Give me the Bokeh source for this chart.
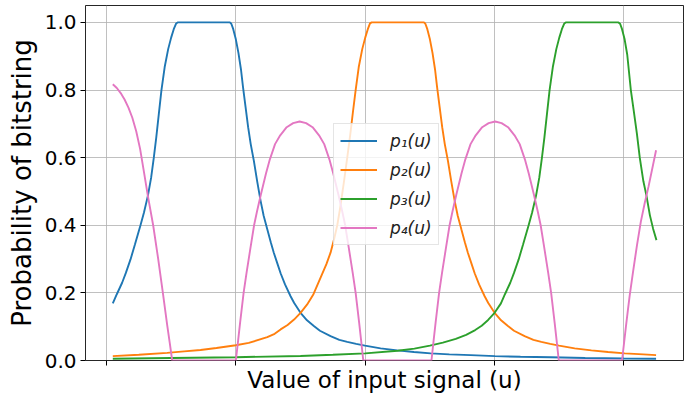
from bokeh.plotting import figure
from bokeh.models import Range1d, FixedTicker, PrintfTickFormatter, Legend, LegendItem
from bokeh.embed import file_html
from bokeh.resources import INLINE

# ---- data (x in grid units, y = probability) ----
u1 = [0.049, 0.080, 0.121, 0.150, 0.186, 0.220, 0.263, 0.290, 0.320, 0.345, 0.366, 0.385,
      0.405, 0.425, 0.450, 0.477, 0.500, 0.520, 0.539, 0.550, 0.954, 0.965, 0.980, 1.000,
      1.020, 1.040, 1.055, 1.075, 1.095, 1.115, 1.139, 1.165, 1.191, 1.215, 1.243, 1.270,
      1.294, 1.320, 1.346, 1.380, 1.423, 1.451, 1.500, 1.550, 1.603, 1.650, 1.732, 1.800,
      1.861, 1.930, 1.998, 2.119, 2.248, 2.377, 2.506, 2.650, 2.815, 3.003, 3.200, 3.434,
      3.700, 4.000, 4.248]
p1 = [0.169, 0.196, 0.230, 0.259, 0.299, 0.343, 0.400, 0.438, 0.487, 0.540, 0.600, 0.660,
      0.730, 0.800, 0.868, 0.921, 0.955, 0.980, 0.997, 1.000, 1.000, 0.996, 0.980, 0.950,
      0.910, 0.860, 0.810, 0.750, 0.690, 0.640, 0.591, 0.530, 0.473, 0.428, 0.388, 0.350,
      0.318, 0.288, 0.258, 0.225, 0.190, 0.170, 0.141, 0.119, 0.102, 0.088, 0.072, 0.061,
      0.055, 0.049, 0.044, 0.036, 0.030, 0.025, 0.021, 0.018, 0.016, 0.013, 0.011, 0.0098,
      0.0075, 0.006, 0.005]

u2 = [0.049, 0.250, 0.469, 0.600, 0.727, 0.850, 1.000, 1.100, 1.243, 1.300, 1.346, 1.400,
      1.450, 1.500, 1.550, 1.600, 1.655, 1.700, 1.732, 1.760, 1.784, 1.810, 1.836, 1.861,
      1.885, 1.905, 1.926, 1.950, 1.977, 2.000, 2.020, 2.037, 2.050, 2.454, 2.465, 2.480,
      2.500, 2.520, 2.540, 2.555, 2.575, 2.595, 2.615, 2.639, 2.665, 2.691, 2.715, 2.743,
      2.770, 2.794, 2.820, 2.846, 2.880, 2.923, 2.951, 3.000, 3.050, 3.103, 3.150, 3.232,
      3.300, 3.361, 3.430, 3.498, 3.619, 3.748, 3.877, 4.006, 4.150, 4.248]
p2 = [0.013, 0.017, 0.0226, 0.027, 0.031, 0.037, 0.045, 0.052, 0.069, 0.079, 0.092, 0.105,
      0.121, 0.141, 0.165, 0.196, 0.245, 0.285, 0.319, 0.360, 0.400, 0.460, 0.530, 0.600,
      0.670, 0.735, 0.800, 0.868, 0.921, 0.955, 0.980, 0.997, 1.000, 1.000, 0.996, 0.980,
      0.950, 0.910, 0.860, 0.810, 0.750, 0.690, 0.640, 0.591, 0.530, 0.473, 0.428, 0.388,
      0.350, 0.318, 0.288, 0.258, 0.225, 0.190, 0.170, 0.141, 0.119, 0.102, 0.088, 0.072,
      0.061, 0.055, 0.049, 0.044, 0.036, 0.030, 0.025, 0.021, 0.018, 0.016]

u3 = [0.049, 0.500, 1.000, 1.500, 1.750, 2.000, 2.250, 2.380, 2.500, 2.600, 2.700, 2.780,
      2.850, 2.900, 2.950, 3.000, 3.049, 3.080, 3.121, 3.150, 3.186, 3.220, 3.263, 3.290,
      3.320, 3.345, 3.366, 3.385, 3.405, 3.425, 3.450, 3.477, 3.500, 3.520, 3.539, 3.550,
      3.957, 3.970, 3.985, 4.005, 4.025, 4.053, 4.075, 4.100, 4.122, 4.150, 4.174, 4.200,
      4.225, 4.251]
p3 = [0.005, 0.0072, 0.0098, 0.0135, 0.017, 0.021, 0.029, 0.035, 0.044, 0.053, 0.064, 0.076,
      0.090, 0.103, 0.120, 0.141, 0.169, 0.196, 0.230, 0.259, 0.299, 0.343, 0.400, 0.438,
      0.487, 0.540, 0.600, 0.660, 0.730, 0.800, 0.868, 0.921, 0.955, 0.980, 0.997, 1.000,
      1.000, 0.996, 0.980, 0.950, 0.905, 0.800, 0.740, 0.670, 0.600, 0.530, 0.487, 0.430,
      0.390, 0.356]

u4 = [0.049, 0.080, 0.110, 0.140, 0.170, 0.200, 0.230, 0.260, 0.290, 0.320, 0.361, 0.400,
      0.436, 0.470, 0.490, 0.508, 1.000,
      1.018, 1.033, 1.060, 1.083, 1.113, 1.141, 1.163, 1.193, 1.233, 1.263, 1.303, 1.343,
      1.393, 1.443, 1.493, 1.543, 1.593, 1.643, 1.683, 1.723, 1.753, 1.793, 1.823, 1.845,
      1.873, 1.903, 1.926, 1.953, 1.968, 1.985, 2.512,
      2.529, 2.544, 2.571, 2.594, 2.624, 2.652, 2.674, 2.704, 2.744, 2.774, 2.814, 2.854,
      2.904, 2.954, 3.004, 3.054, 3.104, 3.154, 3.194, 3.234, 3.264, 3.304, 3.334, 3.356,
      3.384, 3.414, 3.437, 3.464, 3.479, 3.496, 3.985,
      4.000, 4.015, 4.030, 4.045, 4.070, 4.100, 4.130, 4.160, 4.190, 4.220, 4.248]
p4 = [0.817, 0.806, 0.791, 0.772, 0.748, 0.718, 0.678, 0.626, 0.557, 0.487, 0.400, 0.300,
      0.200, 0.103, 0.050, 0.000, 0.000,
      0.060, 0.112, 0.200, 0.260, 0.333, 0.400, 0.440, 0.490, 0.553, 0.595, 0.640, 0.666,
      0.690, 0.702, 0.707, 0.702, 0.690, 0.666, 0.640, 0.595, 0.553, 0.490, 0.440, 0.400,
      0.333, 0.260, 0.200, 0.112, 0.060, 0.000, 0.000,
      0.060, 0.112, 0.200, 0.260, 0.333, 0.400, 0.440, 0.490, 0.553, 0.595, 0.640, 0.666,
      0.690, 0.702, 0.707, 0.702, 0.690, 0.666, 0.640, 0.595, 0.553, 0.490, 0.440, 0.400,
      0.333, 0.260, 0.200, 0.112, 0.060, 0.000, 0.000,
      0.050, 0.100, 0.148, 0.195, 0.262, 0.340, 0.410, 0.465, 0.515, 0.570, 0.622]

labels = ["p\u2081(u)", "p\u2082(u)", "p\u2083(u)", "p\u2084(u)"]
colors = ["#1f77b4", "#ff7f0e", "#2ca02c", "#e377c2"]
x_ticks = [0, 1, 2, 3, 4]
y_ticks = [0.0, 0.2, 0.4, 0.6, 0.8, 1.0]

FONT = "DejaVu Sans"

p = figure(width=699, height=400, output_backend="svg", toolbar_location=None,
           x_range=Range1d(-0.162, 4.46), y_range=Range1d(0, 1.05),
           min_border_left=85, min_border_right=16, min_border_top=5, min_border_bottom=40)
p.background_fill_color = "white"
p.border_fill_color = "white"
p.outline_line_color = "black"
p.outline_line_width = 1
p.outline_line_alpha = 0.85

# axes
p.xaxis.ticker = FixedTicker(ticks=x_ticks)
p.yaxis.ticker = FixedTicker(ticks=y_ticks)
p.yaxis.formatter = PrintfTickFormatter(format="%.1f")
for ax in (p.xaxis[0], p.yaxis[0]):
    ax.axis_line_color = None
    ax.major_tick_line_color = "black"
    ax.major_tick_out = 5
    ax.major_tick_in = 0
    ax.minor_tick_line_color = None
    ax.axis_label_text_font = FONT
    ax.axis_label_text_font_style = "normal"
    ax.axis_label_text_color = "black"
    ax.major_label_text_font = FONT
    ax.major_label_text_color = "black"
p.xaxis.major_label_overrides = {t: "" for t in x_ticks}
p.xaxis.major_label_text_font_size = "1px"
p.xaxis.major_label_standoff = 0
p.xaxis.axis_label = "Value of input signal (u)"
p.xaxis.axis_label_text_font_size = "23px"
p.xaxis.axis_label_standoff = 1
p.yaxis.major_label_text_font_size = "20px"
p.yaxis.major_label_standoff = 4
p.yaxis.axis_label = "Probability of bitstring"
p.yaxis.axis_label_text_font_size = "26px"
p.yaxis.axis_label_standoff = 5

# grid
p.xgrid.ticker = FixedTicker(ticks=x_ticks)
p.ygrid.ticker = FixedTicker(ticks=y_ticks)
p.grid.grid_line_color = "#b0b0b0"
p.grid.grid_line_width = 1
p.grid.grid_line_alpha = 0.8

renderers = []
for xs, ys, c in zip([u1, u2, u3, u4], [p1, p2, p3, p4], colors):
    r = p.line(xs, ys, line_color=c, line_width=1.9)
    renderers.append(r)

legend = Legend(items=[LegendItem(label=l, renderers=[r]) for l, r in zip(labels, renderers)],
                location=(248, 115))
legend.label_text_font = FONT
legend.label_text_font_size = "17px"
legend.label_text_font_style = "italic"
legend.label_text_color = "#222222"
legend.glyph_width = 37
legend.glyph_height = 21
legend.label_height = 21
legend.label_standoff = 13
legend.spacing = 8
legend.padding = 6
legend.margin = 0
legend.border_line_color = "#cccccc"
legend.border_line_width = 1
legend.background_fill_color = "white"
legend.background_fill_alpha = 0.8
p.add_layout(legend)

open("out.html", "w").write(file_html(p, INLINE))
